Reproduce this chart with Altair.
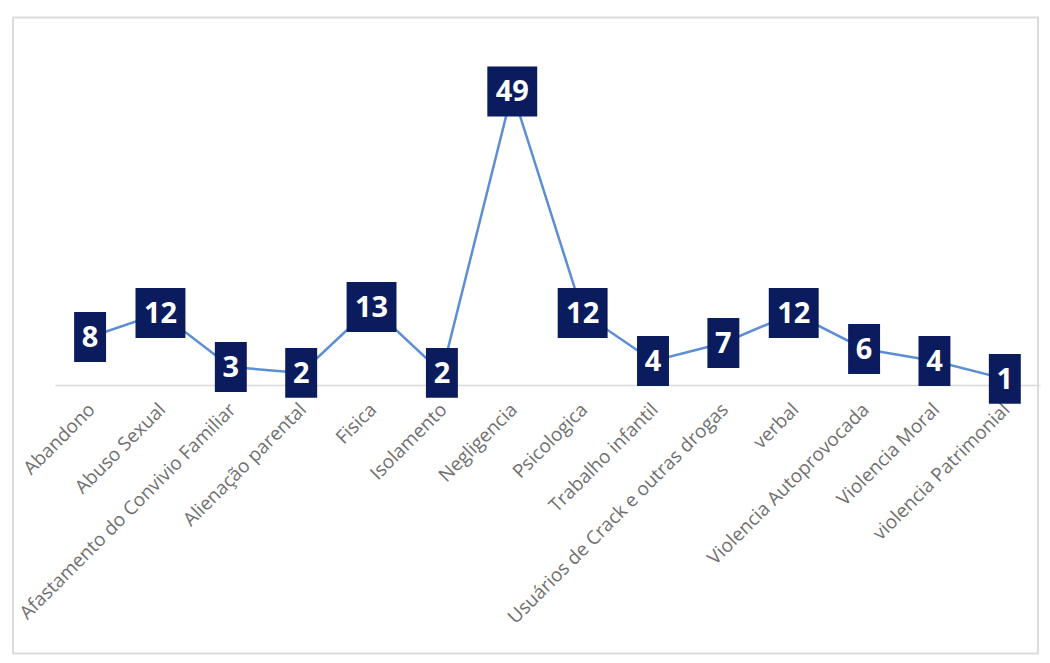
import altair as alt
import pandas as pd

categories = [
    "Abandono", "Abuso Sexual", "Afastamento do Convivio Familiar",
    "Alienação parental", "Fisica", "Isolamento", "Negligencia",
    "Psicologica", "Trabalho infantil", "Usuários de Crack e outras drogas",
    "verbal", "Violencia Autoprovocada", "Violencia Moral", "violencia Patrimonial",
]
values = [8, 12, 3, 2, 13, 2, 49, 12, 4, 7, 12, 6, 4, 1]

df = pd.DataFrame({"cat": categories, "v": values})
df["digits"] = df["v"].astype(str).str.len().astype(str)

NAVY = "#0b1c5e"
LINE = "#5b8ed2"

x_enc = alt.X("cat:N", sort=categories, scale=alt.Scale(type="point", padding=0.5),
              axis=alt.Axis(title=None, labelAngle=-45, labelAlign="right", labelBaseline="top",
                            labelFont="Open Sans", labelFontSize=19, labelColor="#707070",
                            labelPadding=15, labelOffset=-5, ticks=False, domainColor="#d9d9d9",
                            domainWidth=1.5, grid=False, labelLimit=400, labelOverlap=False))
y_enc = alt.Y("v:Q", scale=alt.Scale(domain=[0, 60]), axis=None)

frame = alt.Chart(pd.DataFrame({"a": [0]})).mark_rect(
    fillOpacity=0, stroke="#dcdcdc", strokeWidth=2
).encode(x=alt.value(-42), x2=alt.value(985), y=alt.value(-8), y2=alt.value(629))

line = alt.Chart(df).mark_line(color=LINE, strokeWidth=2.5).encode(x=x_enc, y=y_enc)

boxes = alt.Chart(df).mark_point(filled=True, opacity=1, color=NAVY, strokeWidth=0, size=2500).encode(
    x=x_enc, y=y_enc,
    shape=alt.Shape("digits:N", legend=None, scale=alt.Scale(
        domain=["1", "2"],
        range=["M-0.64,-1L0.64,-1L0.64,1L-0.64,1Z", "M-1,-1L1,-1L1,1L-1,1Z"])),
)

texts = alt.Chart(df).mark_text(color="white", font="Open Sans", fontWeight="bold",
                                fontSize=29, baseline="middle", dy=1).encode(
    x=x_enc, y=y_enc, text="v:Q")

chart = alt.layer(frame, line, boxes, texts).properties(
    width=987, height=360,
    autosize=alt.AutoSizeParams(type="none"),
    padding={"left": 47, "top": 17, "right": 2, "bottom": 270},
    background="white",
).configure_view(stroke=None)

chart.save("out.html", embed_options={"renderer": "svg", "actions": False})
